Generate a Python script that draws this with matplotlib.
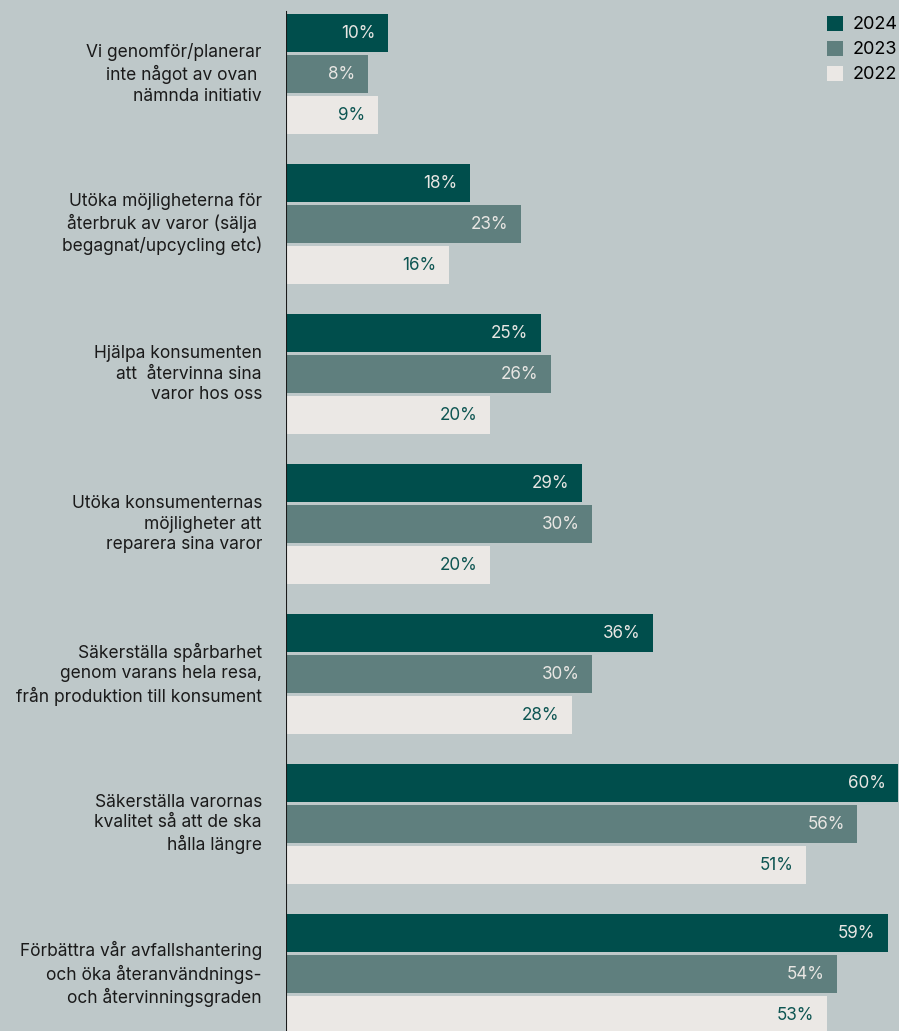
import numpy as np
import matplotlib.pyplot as plt
from matplotlib.patches import Patch
from matplotlib.transforms import blended_transform_factory

# Data
kategorier = [
    "Vi genomför/planerar\ninte något av ovan \nnämnda initiativ",
    "Utöka möjligheterna för\nåterbruk av varor (sälja \nbegagnat/upcycling etc)",
    "Hjälpa konsumenten\natt  återvinna sina\nvaror hos oss",
    "Utöka konsumenternas\nmöjligheter att\nreparera sina varor",
    "Säkerställa spårbarhet\ngenom varans hela resa,\nfrån produktion till konsument",
    "Säkerställa varornas\nkvalitet så att de ska\nhålla längre",
    "Förbättra vår avfallshantering\noch öka återanvändnings-\noch återvinningsgraden",
]
ar = ["2024", "2023", "2022"]
v2024 = [10, 18, 25, 29, 36, 60, 59]
v2023 = [8, 23, 26, 30, 30, 56, 54]
v2022 = [9, 16, 20, 20, 28, 51, 53]
serier = [v2024, v2023, v2022]

bg = "#bec8c9"
farger = ["#004e4c", "#5f7f7e", "#ebe8e5"]
textfarger = ["#e8e6e3", "#e8e6e3", "#0d5552"]

plt.rcParams["font.family"] = ["Inter", "DejaVu Sans"]

fig = plt.figure(figsize=(8.99, 10.31), dpi=100, facecolor=bg)
ax = fig.add_axes([286 / 899, 0, 1 - 286 / 899, 1])
ax.set_facecolor(bg)

steg = 41 / 150
hojd = 38 / 150
idx = np.arange(len(kategorier))
for j, (vals, f, tf) in enumerate(zip(serier, farger, textfarger)):
    y = idx + j * steg
    ax.barh(y, vals, height=hojd, color=f, label=ar[j])
    for yy, v in zip(y, vals):
        ax.annotate(f"{v}%", (v, yy), xytext=(-9, 0), textcoords="offset points",
                    ha="right", va="center", color=tf, fontsize=12.3)

ax.set_xlim(0, 60.1)
ax.set_ylim(1031 / 150 - 33 / 150, -33 / 150)
for s in ax.spines.values():
    s.set_visible(False)
ax.set_xticks([])
ax.set_yticks([])
ax.axvline(0, ymin=0, ymax=1 - 12 / 1031, color="#1a1a1a", lw=1.5)

tr = blended_transform_factory(fig.transFigure, ax.transData)
for i, k in enumerate(kategorier):
    fig.text(262 / 899, i + steg, k, transform=tr, ha="right", va="center",
             fontsize=12.5, color="#1a1a1a", linespacing=1.28)

handtag = [Patch(facecolor=f, edgecolor="none") for f in farger]
fig.legend(handtag, ar, loc="upper right", bbox_to_anchor=(1 + 11 / 899, 1 - 3 / 1031),
           frameon=False, fontsize=13, handlelength=0.9, handleheight=0.9,
           handletextpad=0.5, labelspacing=0.4, borderaxespad=0.3)

fig.savefig("out.png", dpi=100, facecolor=bg)
